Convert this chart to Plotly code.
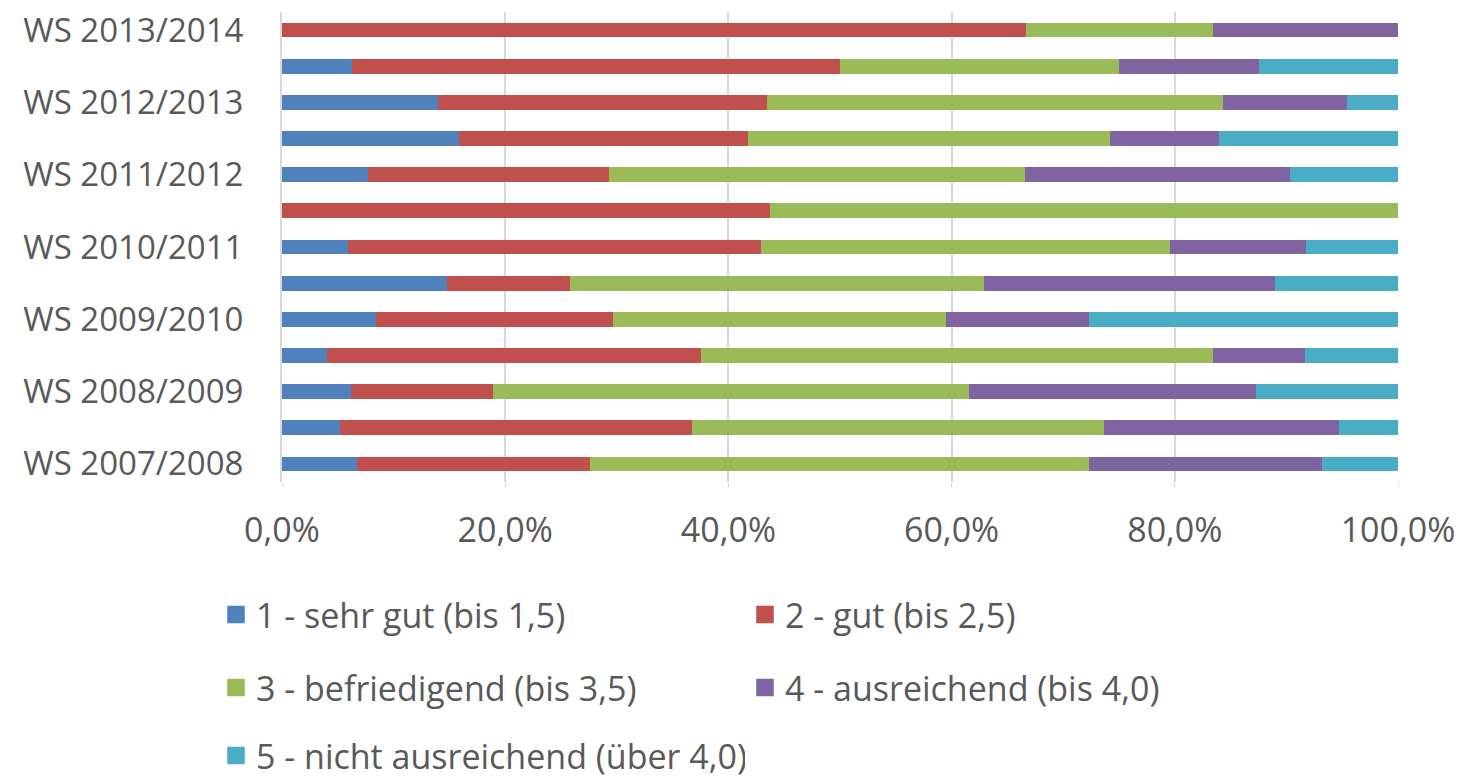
import plotly.graph_objects as go

# Categories (bottom to top); only WS terms are labelled on the axis
semesters = [
    "WS 2007/2008", "SS 2008", "WS 2008/2009", "SS 2009", "WS 2009/2010",
    "SS 2010", "WS 2010/2011", "SS 2011", "WS 2011/2012", "SS 2012",
    "WS 2012/2013", "SS 2013", "WS 2013/2014",
]
tick_labels = ["WS 2007/2008", "WS 2008/2009", "WS 2009/2010", "WS 2010/2011",
               "WS 2011/2012", "WS 2012/2013", "WS 2013/2014"]

series_names = [
    "1 - sehr gut (bis 1,5)",
    "2 - gut (bis 2,5)",
    "3 - befriedigend (bis 3,5)",
    "4 - ausreichend (bis 4,0)",
    "5 - nicht ausreichend (über 4,0)",
]

# Shares in percent, in the order of `semesters`
sehr_gut =        [6.7, 5.2, 6.2, 4.0, 8.4, 14.8, 5.9, 0.0, 7.7, 15.9, 14.0, 6.25, 0.0]
gut =             [20.9, 31.5, 12.7, 33.5, 21.3, 11.0, 37.0, 43.75, 21.6, 25.9, 29.5, 43.75, 66.7]
befriedigend =    [44.7, 37.0, 42.7, 45.9, 29.8, 37.1, 36.7, 56.25, 37.3, 32.4, 40.8, 25.0, 16.7]
ausreichend =     [20.9, 21.0, 25.7, 8.3, 12.8, 26.1, 12.2, 0.0, 23.7, 9.8, 11.1, 12.5, 16.6]
nicht_ausreich =  [6.8, 5.3, 12.7, 8.3, 27.7, 11.0, 8.2, 0.0, 9.7, 16.0, 4.6, 12.5, 0.0]

values = [sehr_gut, gut, befriedigend, ausreichend, nicht_ausreich]
colors = ["#4F81BD", "#C0504D", "#9BBB59", "#8064A2", "#4BACC6"]
legend_ids = ["legend", "legend", "legend2", "legend2", "legend3"]

x_ticks = [0, 20, 40, 60, 80, 100]
x_tick_text = ["0,0%", "20,0%", "40,0%", "60,0%", "80,0%", "100,0%"]

FONT = "Open Sans"
FS = 34
FS_Y = 33
TXT = "#595959"
GRID = "#D9D9D9"

fig = go.Figure()
for name, vals, col in zip(series_names, values, colors):
    fig.add_trace(go.Bar(
        y=semesters, x=vals, name=name, orientation="h",
        marker=dict(color=col, line=dict(width=0)),
        showlegend=False,
    ))
# Legend entries (larger square keys, as in the reference)
for name, col, lg in zip(series_names, colors, legend_ids):
    fig.add_trace(go.Scatter(
        x=[None], y=[None], mode="markers", name=name,
        marker=dict(symbol="square", size=16, color=col,
                    line=dict(color=col, width=1.5)),
        legend=lg, showlegend=True, hoverinfo="skip",
    ))

# The page body adds an 8px offset; figure coordinates below compensate for it
W, H = 1464, 778
L, R, T, B = 274, 74, 4, 304
plot_h = H - T - B


def py(px):
    return (H - B - px) / plot_h


def px_x(px):
    return (px - L) / (W - L - R)


leg_common = dict(
    orientation="h", xanchor="left", yanchor="middle",
    font=dict(family=FONT, size=FS, color=TXT),
    entrywidth=484, entrywidthmode="pixels",
    bgcolor="rgba(0,0,0,0)", itemsizing="trace",
    traceorder="normal",
)

fig.update_layout(
    width=W, height=H,
    margin=dict(l=L, r=R, t=T, b=B, autoexpand=False),
    barmode="stack",
    bargap=0.59,
    paper_bgcolor="white",
    plot_bgcolor="white",
    separators=",.",
    font=dict(family=FONT, size=FS, color=TXT),
    legend=dict(x=px_x(208), y=py(607), **leg_common),
    legend2=dict(x=px_x(208), y=py(680), **leg_common),
    legend3=dict(x=px_x(208), y=py(748), **leg_common),
    xaxis=dict(
        range=[0, 100],
        tickmode="array", tickvals=x_ticks, ticktext=x_tick_text,
        showgrid=True, gridcolor=GRID, gridwidth=2,
        zeroline=False,
        showline=False,
        ticks="outside", ticklen=4, tickcolor=GRID, tickwidth=1,
        ticklabelstandoff=14,
        tickfont=dict(family=FONT, size=FS, color=TXT),
        automargin=False,
        fixedrange=True,
    ),
    yaxis=dict(
        type="category",
        categoryorder="array", categoryarray=semesters,
        tickmode="array", tickvals=tick_labels, ticktext=tick_labels,
        showgrid=False,
        showline=True, linecolor=GRID, linewidth=2,
        ticks="",
        ticklabelstandoff=30,
        tickfont=dict(family=FONT, size=FS_Y, color=TXT),
        automargin=False,
        fixedrange=True,
    ),
    showlegend=True,
)

fig.write_html("out.html")
